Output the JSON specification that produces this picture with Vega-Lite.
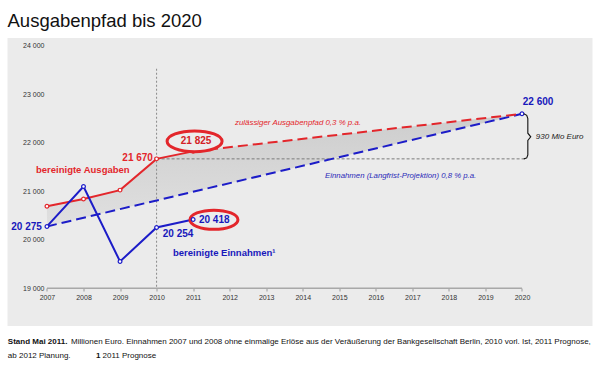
{
  "$schema": "https://vega.github.io/schema/vega-lite/v6.json",
  "width": 585,
  "height": 288,
  "autosize": "none",
  "padding": {"left": 7.5, "top": 38, "right": 7.5, "bottom": 43},
  "background": "#ffffff",
  "config": {
    "view": {"fill": "#ebebeb", "stroke": null},
    "locale": {"number": {"decimal": ",", "thousands": " ", "grouping": [3], "currency": ["", " €"]}},
    "font": "Liberation Sans, Arial, sans-serif"
  },
  "encoding": {
    "x": {
      "field": "year", "type": "quantitative",
      "scale": {"domain": [2005.92, 2021.93], "nice": false, "zero": false},
      "axis": {
        "values": [2007, 2008, 2009, 2010, 2011, 2012, 2013, 2014, 2015, 2016, 2017, 2018, 2019, 2020],
        "format": "d", "offset": -38, "domain": false, "grid": false,
        "tickSize": 3, "tickColor": "#9a9a9a", "labelFontSize": 7, "labelColor": "#333333",
        "labelPadding": 2, "labelFlush": false, "labelOverlap": false, "title": null
      }
    },
    "y": {
      "field": "value", "type": "quantitative",
      "scale": {"domain": [18220, 24165], "nice": false, "zero": false},
      "axis": {
        "values": [19000, 20000, 21000, 22000, 23000, 24000],
        "format": ",d", "offset": -39.5, "domain": false, "ticks": false, "grid": false,
        "labelFontSize": 7, "labelColor": "#333333", "labelPadding": 3, "title": null
      }
    }
  },
  "layer": [
    {
      "data": {"values": [
        {"year": 2007, "value": 20690, "value2": 20275},
        {"year": 2008, "value": 20840, "value2": 20454},
        {"year": 2009, "value": 21025, "value2": 20633},
        {"year": 2010, "value": 21670, "value2": 20812},
        {"year": 2011, "value": 21825, "value2": 20990},
        {"year": 2020, "value": 22600, "value2": 22600}
      ]},
      "mark": {"type": "area", "color": {"gradient": "linear", "x1": 0, "y1": 0, "x2": 0, "y2": 1, "stops": [{"offset": 0, "color": "#cdcdcd"}, {"offset": 1, "color": "#e0e0e0"}]}},
      "encoding": {"y2": {"field": "value2"}}
    },
    {
      "data": {"values": [{"year": 2010, "value": 23530, "value2": 19000}]},
      "mark": {"type": "rule", "color": "#8a8a8a", "strokeWidth": 1, "strokeDash": [2, 2]},
      "encoding": {"y2": {"field": "value2"}}
    },
    {
      "data": {"values": [{"year": 2010, "year2": 2020.1, "value": 21670}]},
      "mark": {"type": "rule", "color": "#7a7a7a", "strokeWidth": 1, "strokeDash": [3, 2]},
      "encoding": {"x2": {"field": "year2"}}
    },
    {
      "data": {"values": [{"year": 2007, "year2": 2020, "value": 19000}]},
      "mark": {"type": "rule", "color": "#a8a8a8", "strokeWidth": 1.5},
      "encoding": {"x2": {"field": "year2"}}
    },
    {
      "data": {"values": [{"year": 2007, "value": 20275}, {"year": 2020, "value": 22600}]},
      "mark": {"type": "line", "color": "#1c1cc8", "strokeWidth": 2, "strokeDash": [10, 5]}
    },
    {
      "data": {"values": [{"year": 2011, "value": 21825}, {"year": 2020, "value": 22600}]},
      "mark": {"type": "line", "color": "#e3262b", "strokeWidth": 2, "strokeDash": [10, 5]}
    },
    {
      "data": {"values": [
        {"year": 2007, "value": 20690},
        {"year": 2008, "value": 20840},
        {"year": 2009, "value": 21025},
        {"year": 2010, "value": 21670},
        {"year": 2011, "value": 21825}
      ]},
      "layer": [
        {"mark": {"type": "line", "color": "#e3262b", "strokeWidth": 2}},
        {"mark": {"type": "point", "filled": false, "fill": "#ffffff", "stroke": "#e3262b", "strokeWidth": 1.2, "size": 14, "opacity": 1}}
      ]
    },
    {
      "data": {"values": [
        {"year": 2007, "value": 20275},
        {"year": 2008, "value": 21100},
        {"year": 2009, "value": 19552},
        {"year": 2010, "value": 20254},
        {"year": 2011, "value": 20418}
      ]},
      "mark": {"type": "line", "color": "#1c1cc8", "strokeWidth": 2}
    },
    {
      "data": {"values": [{"year": 2011.04, "value": 22032}]},
      "mark": {"type": "point", "shape": "M-1,0A1,0.38,0,1,1,1,0A1,0.38,0,1,1,-1,0Z", "size": 3025, "filled": false, "fill": "#ececec", "stroke": "#e3262b", "strokeWidth": 3, "opacity": 1}
    },
    {
      "data": {"values": [{"year": 2011.57, "value": 20413}]},
      "mark": {"type": "point", "shape": "M-1,0A1,0.4,0,1,1,1,0A1,0.4,0,1,1,-1,0Z", "size": 2304, "filled": false, "fill": "#ececec", "stroke": "#e3262b", "strokeWidth": 3, "opacity": 1}
    },
    {
      "data": {"values": [
        {"year": 2007, "value": 20275},
        {"year": 2008, "value": 21100},
        {"year": 2009, "value": 19552},
        {"year": 2010, "value": 20254},
        {"year": 2011, "value": 20418},
        {"year": 2020, "value": 22600}
      ]},
      "mark": {"type": "point", "filled": false, "fill": "#ffffff", "stroke": "#1c1cc8", "strokeWidth": 1.2, "size": 14, "opacity": 1}
    },
    {
      "data": {"values": [
        {"step": 1, "year": 2020.05, "value": 22600},
        {"step": 2, "year": 2020.13, "value": 22570},
        {"step": 3, "year": 2020.16, "value": 22500},
        {"step": 4, "year": 2020.16, "value": 22200},
        {"step": 5, "year": 2020.24, "value": 22125},
        {"step": 6, "year": 2020.16, "value": 22050},
        {"step": 7, "year": 2020.16, "value": 21750},
        {"step": 8, "year": 2020.13, "value": 21690},
        {"step": 9, "year": 2020.05, "value": 21670}
      ]},
      "mark": {"type": "line", "color": "#111111", "strokeWidth": 1.1},
      "encoding": {"order": {"field": "step", "type": "quantitative"}}
    },
    {
      "data": {"values": [
        {"year": 2005.92, "value": 24398, "label": "Ausgabenpfad bis 2020"}
      ]},
      "mark": {"type": "text", "align": "left", "baseline": "alphabetic", "fontSize": 18.5, "color": "#111111"},
      "encoding": {"text": {"field": "label"}}
    },
    {
      "data": {"values": [
        {"year": 2009.9, "value": 21692, "label": "21 670"}
      ]},
      "mark": {"type": "text", "align": "right", "baseline": "middle", "fontWeight": "bold", "fontSize": 10, "color": "#e3262b"},
      "encoding": {"text": {"field": "label"}}
    },
    {
      "data": {"values": [
        {"year": 2011.08, "value": 22043, "label": "21 825"}
      ]},
      "mark": {"type": "text", "align": "center", "baseline": "middle", "fontWeight": "bold", "fontSize": 10, "color": "#d42025"},
      "encoding": {"text": {"field": "label"}}
    },
    {
      "data": {"values": [
        {"year": 2006.7, "value": 21438, "label": "bereinigte Ausgaben"}
      ]},
      "mark": {"type": "text", "align": "left", "baseline": "middle", "fontWeight": "bold", "fontSize": 9.5, "color": "#e3262b"},
      "encoding": {"text": {"field": "label"}}
    },
    {
      "data": {"values": [
        {"year": 2006.86, "value": 20268, "label": "20 275"}
      ]},
      "mark": {"type": "text", "align": "right", "baseline": "middle", "fontWeight": "bold", "fontSize": 10, "color": "#1818bb"},
      "encoding": {"text": {"field": "label"}}
    },
    {
      "data": {"values": [
        {"year": 2010.17, "value": 20124, "label": "20 254"},
        {"year": 2011.16, "value": 20413, "label": "20 418"}
      ]},
      "mark": {"type": "text", "align": "left", "baseline": "middle", "fontWeight": "bold", "fontSize": 10, "color": "#1818bb"},
      "encoding": {"text": {"field": "label"}}
    },
    {
      "data": {"values": [
        {"year": 2010.45, "value": 19732, "label": "bereinigte Einnahmen¹"}
      ]},
      "mark": {"type": "text", "align": "left", "baseline": "middle", "fontWeight": "bold", "fontSize": 9.5, "color": "#1818bb"},
      "encoding": {"text": {"field": "label"}}
    },
    {
      "data": {"values": [
        {"year": 2020.44, "value": 22853, "label": "22 600"}
      ]},
      "mark": {"type": "text", "align": "center", "baseline": "middle", "fontWeight": "bold", "fontSize": 10, "color": "#1818bb"},
      "encoding": {"text": {"field": "label"}}
    },
    {
      "data": {"values": [
        {"year": 2012.145, "value": 22420, "label": "zulässiger Ausgabenpfad 0,3 % p.a."}
      ]},
      "mark": {"type": "text", "align": "left", "baseline": "middle", "fontStyle": "italic", "fontSize": 7.9, "color": "#e3262b"},
      "encoding": {"text": {"field": "label"}}
    },
    {
      "data": {"values": [
        {"year": 2014.61, "value": 21320, "label": "Einnahmen (Langfrist-Projektion) 0,8 % p.a."}
      ]},
      "mark": {"type": "text", "align": "left", "baseline": "middle", "fontStyle": "italic", "fontSize": 7.8, "color": "#2a2ab8"},
      "encoding": {"text": {"field": "label"}}
    },
    {
      "data": {"values": [
        {"year": 2020.38, "value": 22131, "label": "930 Mio Euro"}
      ]},
      "mark": {"type": "text", "align": "left", "baseline": "middle", "fontStyle": "italic", "fontSize": 8, "color": "#222222"},
      "encoding": {"text": {"field": "label"}}
    },
    {
      "data": {"values": [
        {"year": 2005.93, "value": 17886, "label": "Stand Mai 2011."},
        {"year": 2008.34, "value": 17597, "label": "1"}
      ]},
      "mark": {"type": "text", "align": "left", "baseline": "middle", "fontWeight": "bold", "fontSize": 8, "color": "#111111"},
      "encoding": {"text": {"field": "label"}}
    },
    {
      "data": {"values": [
        {"year": 2007.66, "value": 17886, "label": "Millionen Euro. Einnahmen 2007 und 2008 ohne einmalige Erlöse aus der Veräußerung der Bankgesellschaft Berlin, 2010 vorl. Ist, 2011 Prognose,"},
        {"year": 2005.93, "value": 17597, "label": "ab 2012 Planung."},
        {"year": 2008.52, "value": 17597, "label": "2011 Prognose"}
      ]},
      "mark": {"type": "text", "align": "left", "baseline": "middle", "fontSize": 8, "color": "#111111"},
      "encoding": {"text": {"field": "label"}}
    }
  ]
}
